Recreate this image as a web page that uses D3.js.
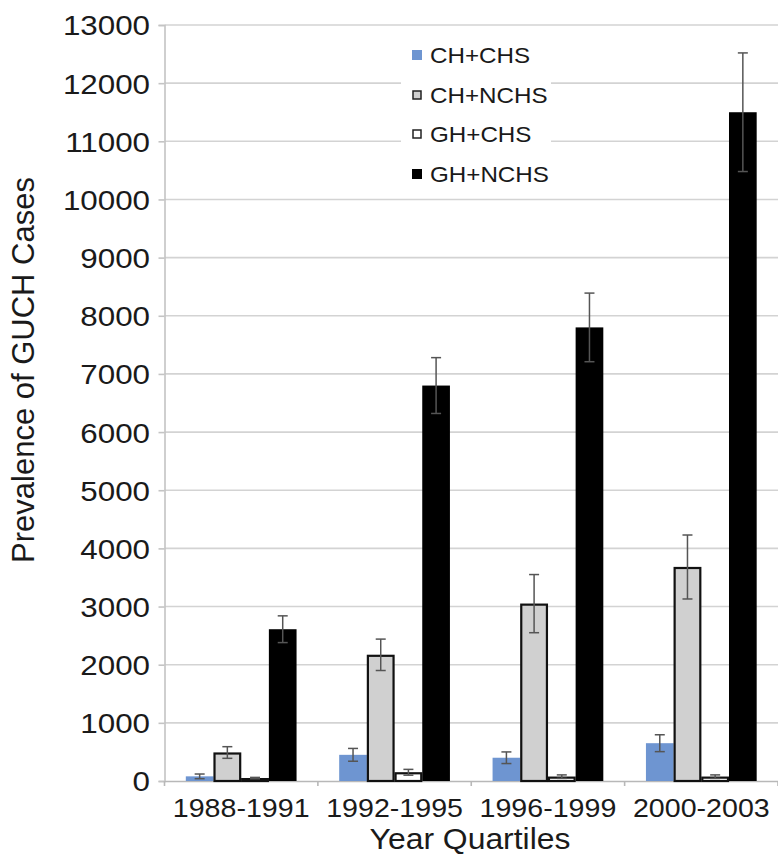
<!DOCTYPE html>
<html>
<head>
<meta charset="utf-8">
<script src="https://cdn.jsdelivr.net/npm/d3@7"></script>
<style>
  html, body { margin: 0; padding: 0; background: #fff; }
  svg { display: block; font-family: "Liberation Sans", Arial, sans-serif; }
</style>
</head>
<body>
<svg id="chart" width="778" height="857"></svg>
<script>
const categories = ["1988-1991", "1992-1995", "1996-1999", "2000-2003"];
const seriesNames = ["CH+CHS", "CH+NCHS", "GH+CHS", "GH+NCHS"];
const chChs = [80, 450, 400, 650];
const chChsErr = [40, 110, 100, 145];
const chNchs = [490, 2170, 3050, 3680];
const chNchsErr = [100, 270, 500, 550];
const ghChs = [50, 150, 75, 75];
const ghChsErr = [12, 50, 30, 30];
const ghNchs = [2610, 6800, 7800, 11500];
const ghNchsErr = [230, 480, 590, 1020];
const yTicks = [0, 1000, 2000, 3000, 4000, 5000, 6000, 7000, 8000, 9000, 10000, 11000, 12000, 13000];

const seriesValues = [chChs, chNchs, ghChs, ghNchs];
const seriesErrors = [chChsErr, chNchsErr, ghChsErr, ghNchsErr];
const fills = ["#6e95d1", "#d0d0d0", "#ffffff", "#000000"];
const strokes = ["#6e95d1", "#111", "#111", "#000"];

const data = categories.map((c, i) => ({
  cat: c,
  bars: seriesNames.map((s, j) => ({ s, j, v: seriesValues[j][i], e: seriesErrors[j][i] }))
}));

const SX = 1.1;
const svg = d3.select("#chart");
const plotLeft = 164.5, plotRight = 778, plotTop = 25, plotBottom = 781;

const y = d3.scaleLinear().domain([0, 13000]).range([plotBottom, plotTop]);
const x0 = d3.scaleBand().domain(categories).range([plotLeft, plotRight]).paddingInner(0).paddingOuter(0);
const x1 = d3.scaleBand().domain(seriesNames).range([0, x0.bandwidth()]).paddingInner(0).paddingOuter(0.77);

// gridlines
svg.append("g").selectAll("line").data(yTicks.filter(d => d > 0)).join("line")
  .attr("x1", plotLeft).attr("x2", plotRight)
  .attr("y1", d => y(d)).attr("y2", d => y(d))
  .attr("stroke", "#d3d3d3").attr("stroke-width", 1.6);

// y axis
const yAxis = svg.append("g").attr("transform", `translate(${plotLeft},0)`)
  .call(d3.axisLeft(y).tickValues(yTicks).tickSize(6).tickPadding(14).tickFormat(d3.format("d")));
yAxis.select(".domain").attr("stroke", "#c4c4c4").attr("stroke-width", 1.6);
yAxis.selectAll(".tick line").attr("stroke", "#c4c4c4").attr("stroke-width", 1.6);
yAxis.selectAll(".tick text")
  .attr("font-size", 28.5).attr("fill", "#1a1a1a")
  .attr("x", -14.5 / SX).attr("dy", "0.35em")
  .attr("transform", `scale(${SX},1)`);

// x axis
const xAxis = svg.append("g").attr("transform", `translate(0,${plotBottom})`)
  .call(d3.axisBottom(x0).tickSize(0).tickPadding(0));
xAxis.select(".domain").attr("stroke", "#b8b8b8").attr("stroke-width", 1.6);
xAxis.selectAll(".tick text")
  .attr("font-size", 26).attr("fill", "#1a1a1a")
  .attr("y", 36).attr("dy", 0)
  .attr("transform", `scale(${SX},1)`);
const boundaries = categories.map(c => x0(c)).concat([x0(categories[categories.length - 1]) + x0.bandwidth()]);
svg.append("g").selectAll("line").data(boundaries).join("line")
  .attr("x1", d => d).attr("x2", d => d)
  .attr("y1", plotBottom).attr("y2", plotBottom + 5)
  .attr("stroke", "#b8b8b8").attr("stroke-width", 1.6);

// bars
const groups = svg.append("g").selectAll("g").data(data).join("g")
  .attr("transform", d => `translate(${x0(d.cat)},0)`);

const outlined = j => (j === 1 || j === 2);
groups.selectAll("rect").data(d => d.bars).join("rect")
  .attr("x", d => x1(d.s) + (outlined(d.j) ? 1 : 0))
  .attr("width", d => x1.bandwidth() - (outlined(d.j) ? 2 : 0))
  .attr("y", d => y(d.v) + (outlined(d.j) ? 1 : 0))
  .attr("height", d => y(0) - y(d.v) - (outlined(d.j) ? 1 : 0))
  .attr("fill", d => fills[d.j])
  .attr("stroke", d => strokes[d.j])
  .attr("stroke-width", d => outlined(d.j) ? 2.2 : 0);

// error bars
const err = groups.selectAll("g.err").data(d => d.bars).join("g").attr("class", "err");
const cx = d => x1(d.s) + x1.bandwidth() / 2;
err.append("line")
  .attr("x1", cx).attr("x2", cx)
  .attr("y1", d => y(d.v + d.e)).attr("y2", d => y(Math.max(0, d.v - d.e)))
  .attr("stroke", "#555").attr("stroke-width", 1.5);
err.append("line")
  .attr("x1", d => cx(d) - 5).attr("x2", d => cx(d) + 5)
  .attr("y1", d => y(d.v + d.e)).attr("y2", d => y(d.v + d.e))
  .attr("stroke", "#555").attr("stroke-width", 1.5);
err.append("line")
  .attr("x1", d => cx(d) - 5).attr("x2", d => cx(d) + 5)
  .attr("y1", d => y(Math.max(0, d.v - d.e))).attr("y2", d => y(Math.max(0, d.v - d.e)))
  .attr("stroke", "#555").attr("stroke-width", 1.5);

// legend
const legend = svg.append("g");
legend.append("rect").attr("x", 401).attr("y", 40).attr("width", 150).attr("height", 156).attr("fill", "#fff");
const rowY = [63, 103, 142, 182];
const li = legend.selectAll("g.item").data(seriesNames).join("g").attr("class", "item")
  .attr("transform", (d, i) => `translate(0,${rowY[i]})`);
li.append("rect")
  .attr("x", (d, i) => outlined(i) ? 413 : 412)
  .attr("y", (d, i) => outlined(i) ? -12 : -13)
  .attr("width", (d, i) => outlined(i) ? 8 : 10)
  .attr("height", (d, i) => outlined(i) ? 8 : 10)
  .attr("fill", (d, i) => fills[i])
  .attr("stroke", (d, i) => outlined(i) ? "#222" : "none")
  .attr("stroke-width", 1.5);
li.append("text")
  .attr("x", 430 / SX).attr("y", 0)
  .attr("transform", `scale(${SX},1)`)
  .attr("font-size", 22).attr("fill", "#1a1a1a")
  .text(d => d);

// axis titles
svg.append("text")
  .attr("transform", `translate(470,849) scale(${SX},1)`)
  .attr("text-anchor", "middle").attr("font-size", 29).attr("fill", "#1a1a1a")
  .text("Year Quartiles");
svg.append("text")
  .attr("transform", `translate(34,370) rotate(-90)`)
  .attr("text-anchor", "middle").attr("font-size", 31).attr("fill", "#1a1a1a")
  .text("Prevalence of GUCH Cases");
</script>
</body>
</html>
